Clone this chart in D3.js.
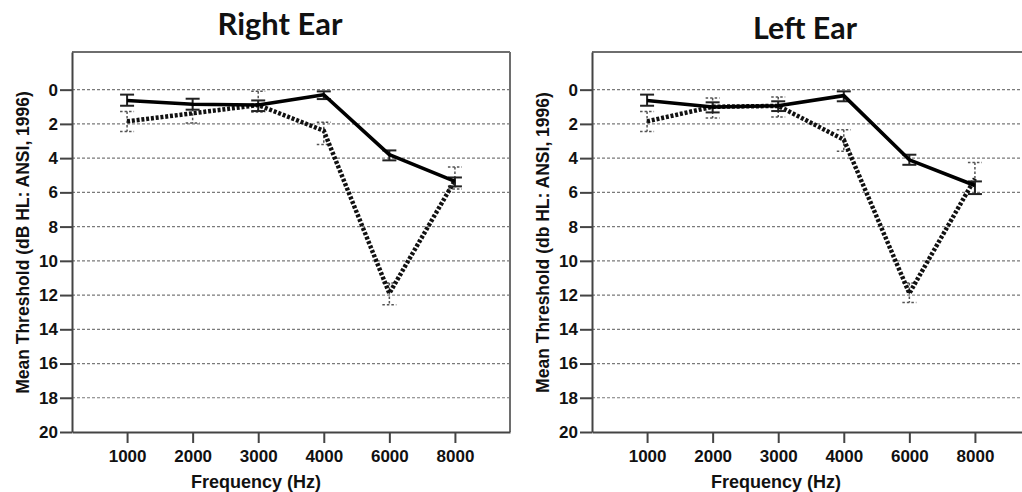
<!DOCTYPE html>
<html><head><meta charset="utf-8">
<script src="https://cdn.jsdelivr.net/npm/d3@7"></script>
<style>body{margin:0;background:#fff}svg{display:block}</style>
</head><body><svg id="c" width="1022" height="492"></svg>
<script>
const frequencies = ["1000","2000","3000","4000","6000","8000"];
const yTicks = [0,2,4,6,8,10,12,14,16,18,20];
const gridTicks = [0,2,4,6,8,10,12,14,16,18];

// Right ear
const rightSolid     = [0.63, 0.85, 0.90, 0.30, 3.80, 5.36];
const rightSolidLo   = [0.29, 0.53, 0.63, 0.10, 3.55, 5.13];
const rightSolidHi   = [0.94, 1.17, 1.25, 0.55, 4.13, 5.65];
const rightDotted    = [1.85, 1.38, 0.90, 2.40, 11.90, 5.30];
const rightDottedLo  = [1.27, 0.85, 0.10, 1.90, 11.30, 4.52];
const rightDottedHi  = [2.44, 1.95, 1.30, 3.20, 12.57, 5.80];

// Left ear
const leftSolid      = [0.63, 1.01, 0.94, 0.35, 4.10, 5.60];
const leftSolidLo    = [0.29, 0.74, 0.68, 0.10, 3.80, 5.36];
const leftSolidHi    = [0.94, 1.33, 1.25, 0.68, 4.39, 6.10];
const leftDotted     = [1.85, 1.00, 0.95, 2.92, 11.90, 5.20];
const leftDottedLo   = [1.27, 0.49, 0.43, 2.34, 11.30, 4.25];
const leftDottedHi   = [2.44, 1.66, 1.60, 3.60, 12.44, 6.10];

const panels = [
  {title:"Right Ear", yLabel:"Mean Threshold (dB HL: ANSI, 1996)", x0:72, titleX:280, titleY:35, titleW:125,
   solid:rightSolid, solidLo:rightSolidLo, solidHi:rightSolidHi, dotted:rightDotted, dottedLo:rightDottedLo, dottedHi:rightDottedHi},
  {title:"Left Ear", yLabel:"Mean Threshold (db HL: ANSI, 1996)", x0:592, titleX:805, titleY:39, titleW:104,
   solid:leftSolid, solidLo:leftSolidLo, solidHi:leftSolidHi, dotted:leftDotted, dottedLo:leftDottedLo, dottedHi:leftDottedHi}
];

const svg = d3.select("#c");
const W = 438, plotTop = 52, plotBottom = 432;
const tickFont = "'Liberation Sans', Arial, sans-serif";

panels.forEach(p => {
  const g = svg.append("g").attr("transform", `translate(${p.x0},0)`);
  const x = d3.scalePoint().domain(frequencies).range([0, W]).padding(0.84);
  const y = d3.scaleLinear().domain([-2.2, 20]).range([plotTop, plotBottom]);

  // gridlines
  g.append("g").selectAll("line").data(gridTicks).join("line")
    .attr("x1", 0).attr("x2", W).attr("y1", d => y(d)).attr("y2", d => y(d))
    .attr("stroke", "#7a7a7a").attr("stroke-width", 1.2).attr("stroke-dasharray", "3,2");

  // frame top/right
  g.append("line").attr("x1",0).attr("x2",W).attr("y1",plotTop).attr("y2",plotTop)
    .attr("stroke","#6e6e6e").attr("stroke-width",2);
  g.append("line").attr("x1",W).attr("x2",W).attr("y1",plotTop).attr("y2",plotBottom)
    .attr("stroke","#6e6e6e").attr("stroke-width",2);

  // axes
  const ay = g.append("g").call(d3.axisLeft(y).tickValues(yTicks).tickSize(12).tickSizeOuter(0).tickPadding(2));
  const ax = g.append("g").attr("transform", `translate(0,${plotBottom})`)
    .call(d3.axisBottom(x).tickSize(11).tickSizeOuter(0).tickPadding(7));
  [ay, ax].forEach(a => {
    a.select(".domain").attr("stroke", "#444").attr("stroke-width", 2);
    a.selectAll(".tick line").attr("stroke", "#444").attr("stroke-width", 2);
    a.selectAll(".tick text").attr("font-family", tickFont).attr("font-size", 17)
      .attr("font-weight", "bold").attr("fill", "#111");
  });

  const idx = d3.range(frequencies.length);
  const capW = 7;

  const eb = (lo, hi, color, width, dash) => {
    const eg = g.append("g").attr("stroke", color).attr("stroke-width", width)
      .attr("stroke-dasharray", dash).attr("fill", "none");
    eg.selectAll(".stem").data(idx).join("line")
      .attr("x1", i => x(frequencies[i])).attr("x2", i => x(frequencies[i]))
      .attr("y1", i => y(lo[i])).attr("y2", i => y(hi[i]));
    eg.selectAll(".capL").data(idx).join("line")
      .attr("x1", i => x(frequencies[i]) - capW).attr("x2", i => x(frequencies[i]) + capW)
      .attr("y1", i => y(lo[i])).attr("y2", i => y(lo[i]));
    eg.selectAll(".capH").data(idx).join("line")
      .attr("x1", i => x(frequencies[i]) - capW).attr("x2", i => x(frequencies[i]) + capW)
      .attr("y1", i => y(hi[i])).attr("y2", i => y(hi[i]));
  };

  const line = d3.line().x(i => x(frequencies[i]));

  eb(p.dottedLo, p.dottedHi, "#555", 1.5, "2.5,2");
  g.append("path").datum(idx).attr("fill", "none").attr("stroke", "#111")
    .attr("stroke-width", 4.5).attr("stroke-dasharray", "3,1.8")
    .attr("d", line.y(i => y(p.dotted[i])));

  eb(p.solidLo, p.solidHi, "#222", 2, null);
  g.append("path").datum(idx).attr("fill", "none").attr("stroke", "#000")
    .attr("stroke-width", 3.6).attr("stroke-linejoin", "round")
    .attr("d", line.y(i => y(p.solid[i])));

  // axis titles
  g.append("text").attr("x", 184).attr("y", 488).attr("text-anchor", "middle")
    .attr("font-family", tickFont).attr("font-size", 18).attr("font-weight", "bold")
    .attr("fill", "#111").text("Frequency (Hz)");
  g.append("text").attr("transform", `translate(-49.5,242.5) rotate(-90)`)
    .attr("text-anchor", "middle").attr("dy", "0.35em")
    .attr("font-family", tickFont).attr("font-size", 17.5).attr("font-weight", "bold")
    .attr("fill", "#111").text(p.yLabel);

  // panel title
  const t = svg.append("text").attr("x", p.titleX).attr("y", p.titleY).attr("text-anchor", "middle")
    .attr("font-family", "Lato, 'Open Sans', sans-serif").attr("font-weight", "bold")
    .attr("font-size", 32).attr("fill", "#111").text(p.title);
  const w = t.node().getComputedTextLength();
  if (w > 0) t.attr("font-size", 32 * p.titleW / w);
});
</script></body></html>
